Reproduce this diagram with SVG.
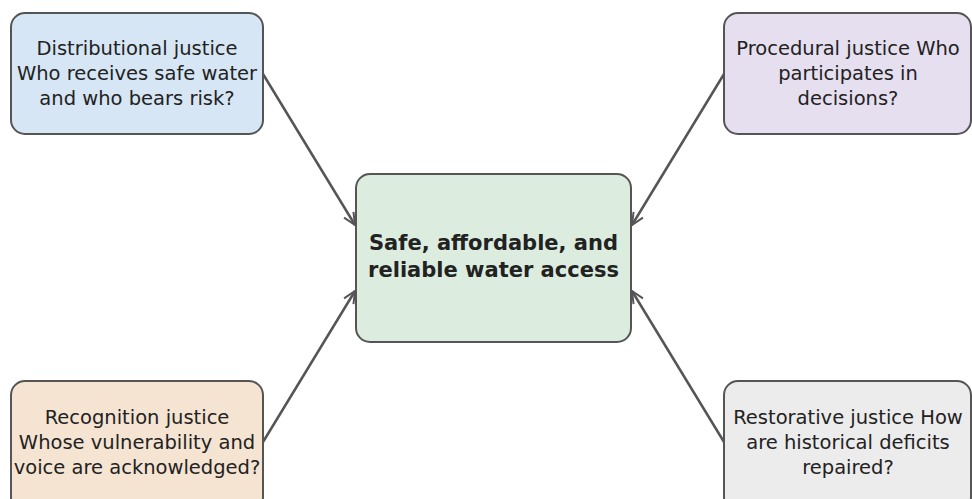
<svg xmlns="http://www.w3.org/2000/svg" width="972" height="499" viewBox="0 0 972 499">
<defs>
<style>
.box{stroke:#555555;stroke-width:2}
.t{font-family:"DejaVu Sans",sans-serif;font-size:19.5px;fill:#222222;text-anchor:middle}
.b{font-family:"DejaVu Sans",sans-serif;font-size:21px;font-weight:bold;fill:#222222;text-anchor:middle}
.c{stroke:#555555;stroke-width:2.5;fill:none}
</style>
<marker id="ah" viewBox="0 0 14 14" refX="13" refY="7" markerWidth="14" markerHeight="14" markerUnits="userSpaceOnUse" orient="auto">
<path d="M1,1.5 L13,7 L1,12.5" fill="none" stroke="#555555" stroke-width="2"/>
</marker>
</defs>
<rect width="972" height="499" fill="#ffffff"/>
<g id="connectors">
<line class="c" x1="263" y1="74" x2="355" y2="225" marker-end="url(#ah)"/>
<line class="c" x1="724" y1="74" x2="632" y2="225" marker-end="url(#ah)"/>
<line class="c" x1="263" y1="442" x2="355" y2="291" marker-end="url(#ah)"/>
<line class="c" x1="724" y1="442" x2="632" y2="291" marker-end="url(#ah)"/>
</g>
<g id="center">
<rect class="box" x="356" y="174" width="275" height="168" rx="14" fill="#dcecdf"/>
<text class="b" x="493.5" y="250">Safe, affordable, and</text>
<text class="b" x="493.5" y="277">reliable water access</text>
</g>
<g id="distributional">
<rect class="box" x="11" y="13" width="252" height="121" rx="14" fill="#d6e6f4"/>
<text class="t" x="137" y="55">Distributional justice</text>
<text class="t" x="137" y="80">Who receives safe water</text>
<text class="t" x="137" y="105">and who bears risk?</text>
</g>
<g id="procedural">
<rect class="box" x="724" y="13" width="247" height="121" rx="14" fill="#e6dff0"/>
<text class="t" x="848" y="55">Procedural justice Who</text>
<text class="t" x="848" y="80">participates in</text>
<text class="t" x="848" y="105">decisions?</text>
</g>
<g id="recognition">
<rect class="box" x="11" y="381" width="252" height="130" rx="14" fill="#f5e4d2"/>
<text class="t" x="137" y="424">Recognition justice</text>
<text class="t" x="137" y="449">Whose vulnerability and</text>
<text class="t" x="137" y="474">voice are acknowledged?</text>
</g>
<g id="restorative">
<rect class="box" x="724" y="381" width="247" height="130" rx="14" fill="#ececec"/>
<text class="t" x="848" y="424">Restorative justice How</text>
<text class="t" x="848" y="449">are historical deficits</text>
<text class="t" x="848" y="474">repaired?</text>
</g>
</svg>
